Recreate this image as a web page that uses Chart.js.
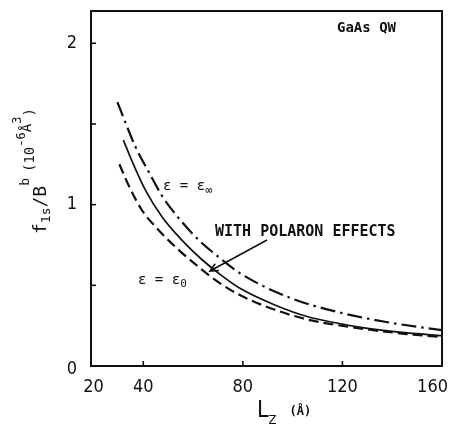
<!DOCTYPE html>
<html>
<head>
<meta charset="utf-8">
<script src="https://cdn.jsdelivr.net/npm/chart.js@4/dist/chart.umd.min.js"></script>
<style>
  body { margin: 0; background: #fff; }
</style>
</head>
<body>
<canvas id="myChart" width="449" height="425"></canvas>
<script>
// eps = eps_inf (dash-dot)
const lzInf = [29.6, 32.8, 36.8, 42.3, 47.5, 54.3, 62.3, 70.3, 79.4, 99.4, 119.3, 139.3, 160];
const fInf = [1.635, 1.51, 1.36, 1.20, 1.055, 0.915, 0.78, 0.675, 0.57, 0.42, 0.33, 0.268, 0.222];

// with polaron effects (solid)
const lzPol = [32, 35.6, 40.7, 47.5, 55.5, 63.5, 71.5, 79, 92.6, 106.2, 126.1, 146, 160];
const fPol = [1.40, 1.265, 1.095, 0.925, 0.78, 0.66, 0.56, 0.48, 0.38, 0.305, 0.243, 0.205, 0.188];

// eps = eps_0 (dashed)
const lzZero = [30.4, 34.4, 39.5, 46.3, 54.3, 62.3, 70.3, 79.4, 92.6, 106.2, 126.1, 146, 160];
const fZero = [1.25, 1.11, 0.965, 0.84, 0.718, 0.613, 0.518, 0.435, 0.35, 0.287, 0.235, 0.198, 0.18];

const xTicks = [20, 40, 80, 120, 160];
const xTickLabels = ['20', '40', '80', '120', '160'];
const xTickMarks = [40, 80, 120];
const yTicks = [0, 1, 2];
const yTickLabels = ['0', '1', '2'];
const yTickMarks = [0.5, 1, 1.5, 2];

const ink = '#111';
const narrow = "'Liberation Sans Narrow', 'DejaVu Sans Condensed', 'Arial Narrow', sans-serif";
const mono = "'DejaVu Sans Mono', monospace";

const toPoints = (xs, ys) => xs.map((x, i) => ({ x: x, y: ys[i] }));

function richText(c, parts, x, y) {
    parts.forEach(p => {
        c.font = p.f;
        c.fillText(p.t, x, y + (p.dy || 0));
        x += c.measureText(p.t).width + (p.gap || 0);
    });
}

const framePlugin = {
    id: 'frame',
    afterDraw(chart) {
        const c = chart.ctx;
        const a = chart.chartArea;
        const xs = chart.scales.x;
        const ys = chart.scales.y;
        c.save();
        c.strokeStyle = ink;
        c.fillStyle = ink;

        // box
        c.lineWidth = 2;
        c.strokeRect(a.left, a.top, a.right - a.left, a.bottom - a.top);

        // inward tick marks
        c.lineWidth = 1.6;
        yTickMarks.forEach(v => {
            const p = ys.getPixelForValue(v);
            c.beginPath(); c.moveTo(a.left, p); c.lineTo(a.left + 5, p); c.stroke();
        });
        xTickMarks.forEach(v => {
            const p = xs.getPixelForValue(v);
            c.beginPath(); c.moveTo(p, a.bottom); c.lineTo(p, a.bottom - 5); c.stroke();
        });

        // tick labels
        c.font = '18px ' + narrow;
        c.textBaseline = 'middle';
        c.textAlign = 'right';
        yTicks.forEach((v, i) => {
            c.fillText(yTickLabels[i], a.left - 14, ys.getPixelForValue(v) + (v === 0 ? 3 : 0));
        });
        c.textAlign = 'center';
        xTicks.forEach((v, i) => {
            const w = c.measureText(xTickLabels[i]).width;
            const px = Math.min(xs.getPixelForValue(v), chart.width - w / 2 - 1);
            c.fillText(xTickLabels[i], px, a.bottom + 21);
        });

        // y axis title
        c.textAlign = 'left';
        c.textBaseline = 'alphabetic';
        c.save();
        c.translate(46, 234);
        c.rotate(-Math.PI / 2);
        richText(c, [
            { t: 'f', f: '18px ' + mono },
            { t: '1s', f: '13px ' + mono, dy: 4 },
            { t: '/B', f: '18px ' + mono },
            { t: 'b', f: '13px ' + mono, dy: -17, gap: 6 },
            { t: '(10', f: '14px ' + mono, dy: -12 },
            { t: '-6', f: '12px ' + mono, dy: -21 },
            { t: 'Å', f: '14px ' + mono, dy: -15 },
            { t: '3', f: '12px ' + mono, dy: -25 },
            { t: ')', f: '14px ' + mono, dy: -12 }
        ], 0, 0);
        c.restore();

        // x axis title
        richText(c, [
            { t: 'L', f: '23px ' + narrow },
            { t: 'Z', f: '13px ' + narrow, dy: 7, gap: 13 },
            { t: '(Å)', f: 'bold 12px ' + mono, dy: -2 }
        ], 257, 417);

        // annotations
        c.font = 'bold 14px ' + mono;
        c.fillText('GaAs QW', 337, 32);
        c.font = 'bold 15px ' + mono;
        c.fillText('WITH POLARON EFFECTS', 215, 236);
        richText(c, [
            { t: 'ε = ε', f: '14px ' + mono },
            { t: '∞', f: '12px ' + mono, dy: 4 }
        ], 163, 190);
        richText(c, [
            { t: 'ε = ε', f: '14px ' + mono },
            { t: '0', f: '11px ' + mono, dy: 3 }
        ], 138, 284);

        // arrow to the solid curve
        c.lineWidth = 1.6;
        const tx = 210, ty = 271, sx = 267, sy = 240;
        const ang = Math.atan2(ty - sy, tx - sx);
        c.beginPath(); c.moveTo(sx, sy); c.lineTo(tx, ty); c.stroke();
        c.beginPath();
        c.moveTo(tx - 9 * Math.cos(ang - 0.45), ty - 9 * Math.sin(ang - 0.45));
        c.lineTo(tx, ty);
        c.lineTo(tx - 9 * Math.cos(ang + 0.45), ty - 9 * Math.sin(ang + 0.45));
        c.stroke();
        c.restore();
    }
};

const ctx = document.getElementById('myChart');

new Chart(ctx, {
    type: 'line',
    data: {
        datasets: [{
            data: toPoints(lzInf, fInf),
            borderColor: ink,
            borderWidth: 2.2,
            borderDash: [15, 5, 2.5, 5],
            pointRadius: 0,
            cubicInterpolationMode: 'monotone'
        }, {
            data: toPoints(lzPol, fPol),
            borderColor: ink,
            borderWidth: 1.7,
            pointRadius: 0,
            cubicInterpolationMode: 'monotone'
        }, {
            data: toPoints(lzZero, fZero),
            borderColor: ink,
            borderWidth: 2.2,
            borderDash: [10, 5],
            pointRadius: 0,
            cubicInterpolationMode: 'monotone'
        }]
    },
    options: {
        responsive: false,
        animation: false,
        layout: { padding: { top: 11, right: 7, left: 0, bottom: 0 } },
        plugins: {
            legend: { display: false },
            tooltip: { enabled: false }
        },
        scales: {
            x: {
                type: 'linear',
                min: 19,
                max: 160,
                grid: { display: false },
                border: { display: false },
                ticks: { display: false },
                afterFit: s => { s.height = 59; s.paddingLeft = 0; s.paddingRight = 0; }
            },
            y: {
                min: 0,
                max: 2.2,
                grid: { display: false },
                border: { display: false },
                ticks: { display: false },
                afterFit: s => { s.width = 91; s.paddingTop = 0; s.paddingBottom = 0; }
            }
        }
    },
    plugins: [framePlugin]
});
</script>
</body>
</html>
